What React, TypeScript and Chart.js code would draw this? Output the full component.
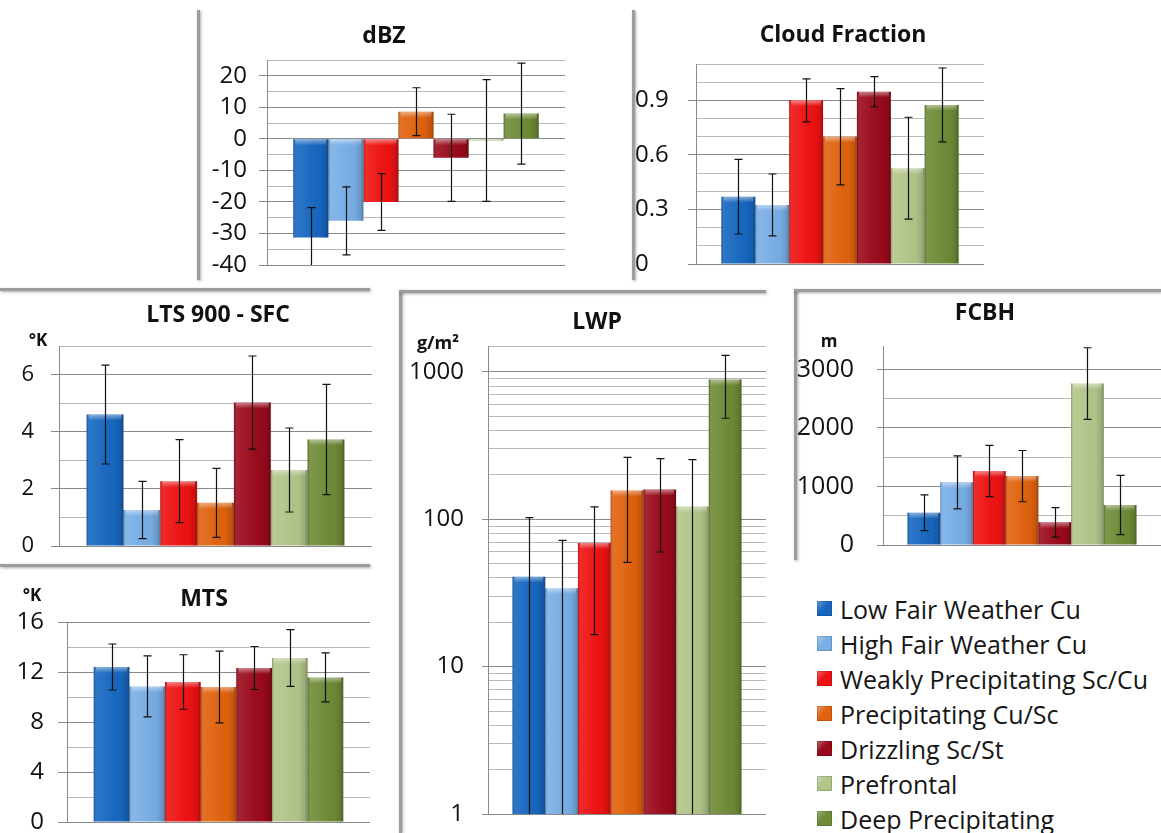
import React, { useEffect, useRef } from 'react';
import { Chart, registerables } from 'chart.js';

Chart.register(...registerables);

const FONT = "'Open Sans', 'DejaVu Sans', sans-serif";

// Cloud regimes (one bar each, in legend order)
const CLOUD_TYPES = [
  'Low Fair Weather Cu',
  'High Fair Weather Cu',
  'Weakly Precipitating Sc/Cu',
  'Precipitating Cu/Sc',
  'Drizzling Sc/St',
  'Prefrontal',
  'Deep Precipitating',
];
const COLORS = ['#1767C0', '#78AEE6', '#EE1212', '#E0620E', '#9A0A1C', '#B2C589', '#6E8B36'];

// Radar reflectivity (dBZ): mean and standard deviation
const DBZ = [-31.3, -26, -20, 8.6, -6, -0.5, 8];
const DBZ_ERR = [9.5, 10.8, 9, 7.6, 13.8, 19.3, 16];
const DBZ_GRID = [-40, -35, -30, -25, -20, -15, -10, -5, 0, 5, 10, 15, 20, 25];
const DBZ_LABELS = [-40, -30, -20, -10, 0, 10, 20];

// Cloud fraction
const CF = [0.37, 0.325, 0.9, 0.7, 0.948, 0.527, 0.875];
const CF_ERR = [0.205, 0.17, 0.118, 0.265, 0.083, 0.28, 0.203];
const CF_GRID = [0, 0.1, 0.2, 0.3, 0.4, 0.5, 0.6, 0.7, 0.8, 0.9, 1.0, 1.1];
const CF_LABELS = [0, 0.3, 0.6, 0.9];

// Lower tropospheric stability, 900 hPa - surface (K)
const LTS = [4.6, 1.26, 2.27, 1.51, 5.02, 2.66, 3.73];
const LTS_ERR = [1.73, 1.0, 1.45, 1.21, 1.63, 1.47, 1.93];
const LTS_GRID = [0, 1, 2, 3, 4, 5, 6, 7];
const LTS_LABELS = [0, 2, 4, 6];

// Mid-tropospheric stability (K)
const MTS = [12.4, 10.85, 11.2, 10.8, 12.32, 13.12, 11.57];
const MTS_ERR = [1.84, 2.44, 2.18, 2.87, 1.72, 2.27, 1.96];
const MTS_GRID = [0, 2, 4, 6, 8, 10, 12, 14, 16];
const MTS_LABELS = [0, 4, 8, 12, 16];

// Liquid water path (g/m2), log axis
const LWP = [40.8, 34, 69, 157, 159, 122, 890];
const LWP_ERR = [62, 38, 52.5, 106, 99, 132, 405];
const LWP_GRID = [
  1, 2, 3, 4, 5, 6, 7, 8, 9,
  10, 20, 30, 40, 50, 60, 70, 80, 90,
  100, 200, 300, 400, 500, 600, 700, 800, 900,
  1000, 1500,
];
const LWP_LABELS = [1, 10, 100, 1000];

// Cloud base height (m)
const FCBH = [551, 1070, 1263, 1177, 387, 2759, 683];
const FCBH_ERR = [305, 452, 438, 438, 253, 611, 506];
const FCBH_GRID = [0, 500, 1000, 1500, 2000, 2500, 3000];
const FCBH_LABELS = [0, 1000, 2000, 3000];

type Panel = {
  key: string;
  title: string;
  unit?: string;
  values: number[];
  errors: number[];
  grid: number[];
  labels: number[];
  scaleType: 'linear' | 'logarithmic';
  min: number;
  max: number;
  // canvas box on the page: left, top, width, height
  box: [number, number, number, number];
  // plot area on the page: left, top, right, bottom
  area: [number, number, number, number];
  tickFont: number;
  tickLength: number;
  labelGap: number;
  crossAlign: 'near' | 'far';
  titlePos: [number, number];
  unitPos?: [number, number];
  unitSize?: number;
};

const PANELS: Panel[] = [
  {
    key: 'dbz', title: 'dBZ', values: DBZ, errors: DBZ_ERR, grid: DBZ_GRID, labels: DBZ_LABELS,
    scaleType: 'linear', min: -40, max: 25,
    box: [200, 0, 400, 280], area: [267, 60, 565, 265],
    tickFont: 24, tickLength: 8, labelGap: 12, crossAlign: 'near', titlePos: [384, 36],
  },
  {
    key: 'cf', title: 'Cloud Fraction', values: CF, errors: CF_ERR, grid: CF_GRID, labels: CF_LABELS,
    scaleType: 'linear', min: 0, max: 1.1,
    box: [635, 0, 425, 280], area: [696, 64, 984, 264],
    tickFont: 24, tickLength: 8, labelGap: 10, crossAlign: 'far', titlePos: [843, 35],
  },
  {
    key: 'lts', title: 'LTS 900 - SFC', unit: '°K', values: LTS, errors: LTS_ERR, grid: LTS_GRID, labels: LTS_LABELS,
    scaleType: 'linear', min: 0, max: 7,
    box: [0, 292, 380, 270], area: [59, 346, 372, 546],
    tickFont: 22, tickLength: 8, labelGap: 17, crossAlign: 'near', titlePos: [218, 315],
    unitPos: [38, 341], unitSize: 17,
  },
  {
    key: 'mts', title: 'MTS', unit: '°K', values: MTS, errors: MTS_ERR, grid: MTS_GRID, labels: MTS_LABELS,
    scaleType: 'linear', min: 0, max: 16,
    box: [0, 568, 380, 265], area: [67, 622, 370, 822],
    tickFont: 24, tickLength: 9, labelGap: 14, crossAlign: 'near', titlePos: [204, 599],
    unitPos: [32, 596], unitSize: 17,
  },
  {
    key: 'lwp', title: 'LWP', unit: 'g/m²', values: LWP, errors: LWP_ERR, grid: LWP_GRID, labels: LWP_LABELS,
    scaleType: 'logarithmic', min: 1, max: 1500,
    box: [402, 293, 368, 540], area: [488, 346, 766, 814],
    tickFont: 24, tickLength: 6, labelGap: 18, crossAlign: 'near', titlePos: [597, 322],
    unitPos: [438, 344], unitSize: 18,
  },
  {
    key: 'fcbh', title: 'FCBH', unit: 'm', values: FCBH, errors: FCBH_ERR, grid: FCBH_GRID, labels: FCBH_LABELS,
    scaleType: 'linear', min: 0, max: 3400,
    box: [797, 293, 364, 267], area: [883, 346, 1161, 545],
    tickFont: 25, tickLength: 6, labelGap: 23, crossAlign: 'near', titlePos: [985, 313],
    unitPos: [829, 342], unitSize: 17,
  },
];

// grey frame edges around the individual chart panels
const FRAME_LINES: [number, number, number, number][] = [
  [197, 10, 3, 270],
  [632, 10, 3, 270],
  [0, 288, 370, 3],
  [0, 564, 370, 3],
  [399, 290, 3, 543],
  [399, 290, 367, 3],
  [794, 289, 3, 271],
  [794, 289, 367, 3],
];

const isIn = (list: number[], v: number) => list.some((l) => Math.abs(l - v) < 1e-6);

// Shaded bar faces followed by the standard-deviation whiskers
const barDecor = {
  id: 'barDecor',
  afterDatasetsDraw(chart: any, _args: any, opts: any) {
    const ctx = chart.ctx as CanvasRenderingContext2D;
    const area = chart.chartArea;
    const yScale = chart.scales.y;
    const isLog = yScale.type === 'logarithmic';
    ctx.save();
    ctx.beginPath();
    ctx.rect(area.left, area.top, area.right - area.left, area.bottom - area.top);
    ctx.clip();
    chart.data.datasets.forEach((_ds: any, i: number) => {
      const meta = chart.getDatasetMeta(i);
      meta.data.forEach((el: any) => {
        const left = el.x - el.width / 2;
        const w = el.width;
        const top = Math.min(el.y, el.base);
        const bottom = Math.max(el.y, el.base);
        const h = bottom - top;
        if (h <= 0.5) return;
        const g = ctx.createLinearGradient(left, 0, left + w, 0);
        g.addColorStop(0, 'rgba(0,0,0,0.25)');
        g.addColorStop(0.07, 'rgba(255,255,255,0.10)');
        g.addColorStop(0.35, 'rgba(255,255,255,0.05)');
        g.addColorStop(0.75, 'rgba(0,0,0,0.02)');
        g.addColorStop(0.93, 'rgba(0,0,0,0.14)');
        g.addColorStop(1, 'rgba(0,0,0,0.32)');
        ctx.fillStyle = g;
        ctx.fillRect(left, top, w, h);
        const capH = Math.min(6, h);
        const g2 = ctx.createLinearGradient(0, top, 0, top + capH);
        g2.addColorStop(0, 'rgba(255,255,255,0.45)');
        g2.addColorStop(1, 'rgba(255,255,255,0)');
        ctx.fillStyle = g2;
        ctx.fillRect(left + 2, top, w - 4, capH);
      });
    });

    const errors: number[] = (opts && opts.errors) || [];
    ctx.strokeStyle = '#111';
    ctx.lineWidth = 1.2;
    chart.data.datasets.forEach((ds: any, i: number) => {
      const el = chart.getDatasetMeta(i).data[0];
      if (!el) return;
      const v = ds.data[0];
      const e = errors[i];
      const x = Math.round(el.x) + 0.5;
      const hi = yScale.getPixelForValue(v + e);
      const loVal = v - e;
      const lo = isLog && loVal <= 0 ? area.bottom + 2 : yScale.getPixelForValue(loVal);
      ctx.beginPath();
      ctx.moveTo(x, hi);
      ctx.lineTo(x, lo);
      ctx.moveTo(x - 4, hi);
      ctx.lineTo(x + 4, hi);
      if (!(isLog && loVal <= 0)) {
        ctx.moveTo(x - 4, lo);
        ctx.lineTo(x + 4, lo);
      }
      ctx.stroke();
    });
    ctx.restore();
  },
};

// Panel title and unit caption
const panelText = {
  id: 'panelText',
  afterDraw(chart: any, _args: any, opts: any) {
    const ctx = chart.ctx as CanvasRenderingContext2D;
    ctx.save();
    ctx.fillStyle = '#111';
    ctx.textAlign = 'center';
    ctx.textBaseline = 'middle';
    (opts.items || []).forEach((it: any) => {
      ctx.font = `bold ${it.size}px ${FONT}`;
      ctx.fillText(it.text, it.x, it.y);
    });
    ctx.restore();
  },
};

function PanelChart({ panel }: { panel: Panel }) {
  const ref = useRef<HTMLCanvasElement>(null);
  const [bx, by, bw, bh] = panel.box;

  useEffect(() => {
    if (!ref.current) return;
    const [al, at, ar, ab] = panel.area;
    const items: any[] = [
      { text: panel.title, x: panel.titlePos[0] - bx, y: panel.titlePos[1] - by, size: 23 },
    ];
    if (panel.unit && panel.unitPos) {
      items.push({ text: panel.unit, x: panel.unitPos[0] - bx, y: panel.unitPos[1] - by, size: panel.unitSize });
    }
    const chart = new Chart(ref.current, {
      type: 'bar',
      data: {
        labels: [panel.title],
        datasets: CLOUD_TYPES.map((name, i) => ({
          label: name,
          data: [panel.values[i]],
          backgroundColor: COLORS[i],
          borderWidth: 0,
          barPercentage: 1,
          categoryPercentage: 7 / 8.5,
        })),
      },
      options: {
        responsive: false,
        animation: false,
        devicePixelRatio: 1,
        layout: {
          padding: { left: 0, top: at - by, right: bx + bw - ar, bottom: by + bh - ab },
        },
        scales: {
          x: { display: false },
          y: {
            type: panel.scaleType,
            min: panel.min,
            max: panel.max,
            afterFit: (s: any) => {
              // fixed axis width; labels may overhang the plot edges freely
              s.width = al - bx;
              s.paddingTop = 0;
              s.paddingBottom = 0;
            },
            afterBuildTicks: (s: any) => {
              s.ticks = panel.grid.map((v) => ({ value: v }));
            },
            ticks: {
              autoSkip: false,
              padding: panel.labelGap,
              crossAlign: panel.crossAlign,
              color: '#111',
              font: { family: FONT, size: panel.tickFont },
              callback: (v: any) => {
                const n = Number(v);
                if (!isIn(panel.labels, n)) return '';
                return String(Math.round(n * 10) / 10);
              },
            },
            grid: {
              color: (c: any) => (c.tick && isIn(panel.labels, c.tick.value) ? '#8a8a8a' : '#b8b8b8'),
              tickColor: (c: any) => (c.tick && isIn(panel.labels, c.tick.value) ? '#8a8a8a' : 'rgba(0,0,0,0)'),
              tickLength: panel.tickLength,
              lineWidth: 1,
            },
            border: { display: true, color: '#8a8a8a', width: 1 },
          },
        } as any,
        plugins: {
          legend: { display: false },
          tooltip: { enabled: false },
          title: { display: false },
          barDecor: { errors: panel.errors },
          panelText: { items },
        } as any,
      },
      plugins: [barDecor, panelText],
    });
    return () => chart.destroy();
  }, [panel]);

  return (
    <canvas
      ref={ref}
      width={bw}
      height={bh}
      style={{ position: 'absolute', left: bx, top: by, width: bw, height: bh }}
    />
  );
}

function Legend() {
  return (
    <div
      style={{
        position: 'absolute',
        left: 817,
        top: 591,
        fontFamily: FONT,
        fontSize: 25,
        color: '#161616',
      }}
    >
      {CLOUD_TYPES.map((name, i) => (
        <div key={name} style={{ display: 'flex', alignItems: 'center', height: 35, whiteSpace: 'nowrap' }}>
          <span
            style={{
              display: 'inline-block',
              width: 15,
              height: 15,
              marginRight: 8,
              background: `linear-gradient(135deg, rgba(255,255,255,0.35), rgba(255,255,255,0) 45%), ${COLORS[i]}`,
              boxShadow: 'inset 0 0 0 1px rgba(0,0,0,0.15)',
            }}
          />
          <span>{name}</span>
        </div>
      ))}
    </div>
  );
}

export default function App() {
  return (
    <div
      style={{
        position: 'absolute',
        left: 0,
        top: 0,
        width: 1161,
        height: 833,
        background: '#ffffff',
        overflow: 'hidden',
      }}
    >
      {FRAME_LINES.map(([l, t, w, h], i) => (
        <div
          key={i}
          style={{
            position: 'absolute',
            left: l,
            top: t,
            width: w,
            height: h,
            background: '#9c9c9c',
            boxShadow: '1px 1px 3px rgba(0,0,0,0.35)',
          }}
        />
      ))}
      {PANELS.map((p) => (
        <PanelChart key={p.key} panel={p} />
      ))}
      <Legend />
    </div>
  );
}
